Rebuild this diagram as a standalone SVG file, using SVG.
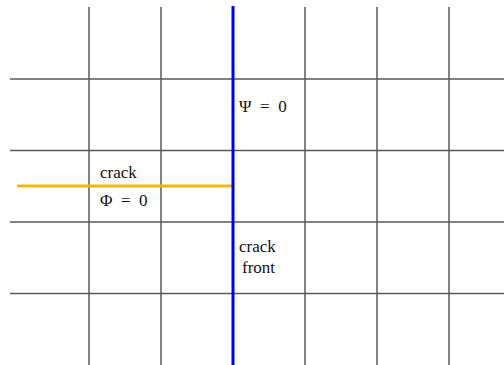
<svg xmlns="http://www.w3.org/2000/svg" width="504" height="365" viewBox="0 0 504 365">
<style>
.g{stroke:#5a5a5a;stroke-width:1.5;fill:none}
.t{font-size:17px;fill:#111}
</style>
<rect width="504" height="365" fill="#fff"/>
<g id="grid">
<line class="g" x1="89" y1="7" x2="89" y2="365"/>
<line class="g" x1="161" y1="7" x2="161" y2="365"/>
<line class="g" x1="305" y1="7" x2="305" y2="365"/>
<line class="g" x1="377" y1="7" x2="377" y2="365"/>
<line class="g" x1="449" y1="7" x2="449" y2="365"/>
<line class="g" x1="10" y1="79" x2="504" y2="79"/>
<line class="g" x1="10" y1="150.5" x2="504" y2="150.5"/>
<line class="g" x1="10" y1="222" x2="504" y2="222"/>
<line class="g" x1="10" y1="293.5" x2="504" y2="293.5"/>
</g>
<g id="crack">
<line x1="17" y1="186" x2="234" y2="186" stroke="#F2B619" stroke-width="3"/>
</g>
<g id="front">
<line x1="233" y1="6" x2="233" y2="365" stroke="#0000F0" stroke-width="3"/>
</g>
<g id="labels" font-family="'Liberation Serif', 'DejaVu Serif', serif">
<text class="t" x="239" y="112">Ψ&#160;&#160;=&#160;&#160;0</text>
<text class="t" x="100" y="178">crack</text>
<text class="t" x="100" y="206">Φ&#160;&#160;=&#160;&#160;0</text>
<text class="t" x="239" y="252">crack</text>
<text class="t" x="242" y="273">front</text>
</g>
</svg>
